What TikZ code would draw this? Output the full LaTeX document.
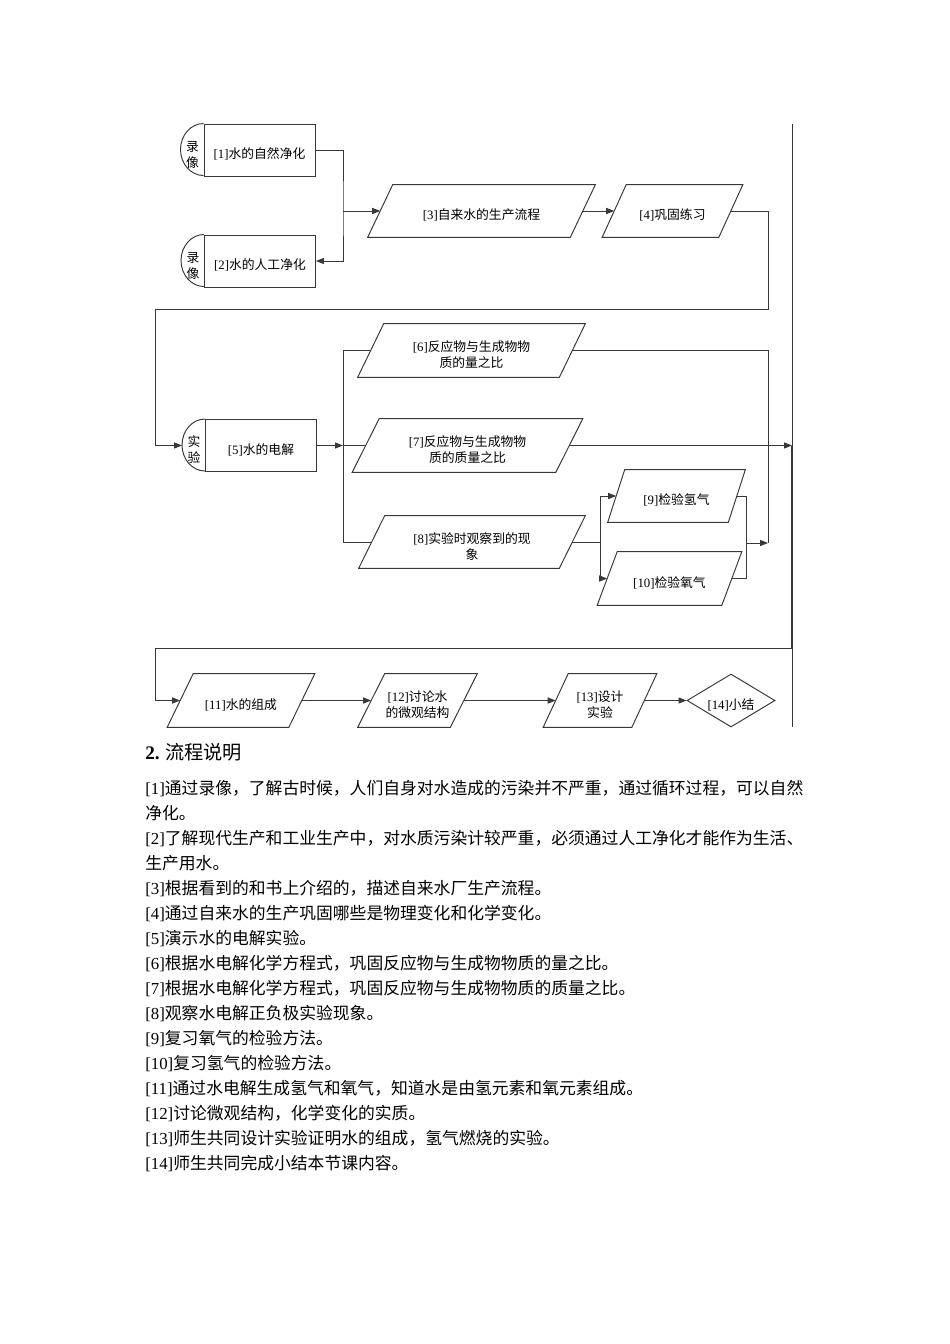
\documentclass[tikz,border=0pt]{standalone}
\usepackage{fontspec}
\setmainfont{Liberation Serif}
\newfontfamily\cjk{Noto Sans CJK SC}
\usetikzlibrary{arrows.meta,shapes.geometric,calc}
\newdimen\px \px=0.625pt
\newcommand\lat[1]{{\rmfamily #1}}
\definecolor{lc}{gray}{0.22}
\tikzset{
  fc/.style={font=\cjk\fontsize{8}{10}\selectfont},
  tshift/.style={execute at begin node={\rule{0pt}{#1}}},
  tshift/.default=12pt,
  two/.style={tshift=22pt},
  box/.style={fc, tshift, draw=lc, line width=0.6pt, minimum width=111\px, minimum height=52\px, inner sep=0pt, align=center},
  pbox/.style={fc, tshift, draw=none, inner sep=0pt, align=center, minimum height=52\px},
  lab/.style={fc, inner sep=0pt, align=center},
  dia/.style={fc, tshift, diamond, draw=lc, line width=0.6pt, aspect=1.66, inner sep=0pt, minimum width=88\px, minimum height=53\px},
  conn/.style={draw=lc, line width=0.6pt},
  arr/.style={conn, -{Triangle[length=5pt,width=3.8pt]}},
  body/.style={inner sep=0pt, anchor=base west, font=\cjk\fontsize{10.5}{12}\selectfont},
}
\begin{document}
\begin{tikzpicture}[x=0.625pt,y=-0.625pt]
\useasboundingbox (0,0) rectangle (950,1344);
\fill[white] (0,0) rectangle (950,1344);

% border line on the right
\coordinate (bt) at (792,124);
\coordinate (bb) at (792,727);
\draw[conn] (bt) -- (bb);

% boxes with half-round label
\node[box] (n1) at (259.5,150) {\lat{[1]}水的自然净化};
\node[box] (n2) at (260,261) {\lat{[2]}水的人工净化};
\node[box] (n5) at (261,445.5) {\lat{[5]}水的电解};
\foreach \n in {n1,n2,n5}
  \draw[conn] (\n.north west) arc[start angle=90, end angle=270, x radius=23\px, y radius=26\px];
\node[lab] (l1) at ($(n1.west)+(-11,5)$) {录\\像};
\node[lab] (l2) at ($(n2.west)+(-11,5)$) {录\\像};
\node[lab] (l5) at ($(n5.west)+(-11,4)$) {实\\验};
\coordinate (a5) at ($(n5.west)+(-23,0)$);

% parallelograms
\node[pbox, minimum width=202\px] (n3) at (481.5,211) {\lat{[3]}自来水的生产流程};
\node[pbox, minimum width=116\px] (n4) at (672.5,211) {\lat{[4]}巩固练习};
\node[pbox, two, minimum width=201\px, minimum height=53\px] (n6) at (471.5,350.5) {\lat{[6]}反应物与生成物物\\质的量之比};
\node[pbox, two, minimum width=203\px, minimum height=53\px] (n7) at (467.5,445.5) {\lat{[7]}反应物与生成物物\\质的质量之比};
\node[pbox, two, minimum width=200\px] (n8) at (472,542) {\lat{[8]}实验时观察到的现\\象};
\node[pbox, minimum width=120\px] (n9) at (676.5,496) {\lat{[9]}检验氢气};
\node[pbox, minimum width=124\px, minimum height=53\px] (n10) at (669.5,578.5) {\lat{[10]}检验氧气};
\node[pbox, minimum width=121\px, minimum height=53\px] (n11) at (241,700.5) {\lat{[11]}水的组成};
\node[pbox, two, minimum width=92\px, minimum height=53\px] (n12) at (417.5,700.5) {\lat{[12]}讨论水\\的微观结构};
\node[pbox, two, minimum width=88\px, minimum height=53\px] (n13) at (600,700.5) {\lat{[13]}设计\\实验};
\node[dia] (n14) at (731,700.5) {\lat{[14]}小结};
\foreach \n/\o in {n3/12.5,n4/12,n6/13,n7/13.5,n8/13,n9/8.5,n10/10,n11/13,n12/13.5,n13/12.5}
  \draw[conn] ([xshift=\o\px]\n.north west) -- ([xshift=\o\px]\n.north east)
    -- ([xshift=-\o\px]\n.south east) -- ([xshift=-\o\px]\n.south west) -- cycle;

% junction coordinates
\coordinate (b1) at (343,211);
\coordinate (r4) at (768,309);
\coordinate (c1) at (155,309);
\coordinate (b5) at (343,445.5);
\coordinate (b6) at (343,350.5);
\coordinate (b8) at (343,542);
\coordinate (m1) at (746,543);
\coordinate (m2) at (768,543);
\coordinate (s8) at (600,542);
\coordinate (r7) at (792,445.5);
\coordinate (r11) at (792,648);
\coordinate (c11) at (155,648);

% connectors
\draw[arr] (n1.east) -| (b1) |- (n2.east);
\draw[arr] (b1) -- (n3.west);
\draw[arr] (n3.east) -- (n4.west);
\draw[arr] (n4.east) -| (r4) -- (c1) |- (a5);
\draw[arr] (n5.east) -- (b5);
\draw[conn] (n6.west) -- (b6) -- (b8) -- (n8.west);
\draw[conn] (b5) -- (n7.west);
\draw[conn] (n6.east) -| (m2);
\draw[arr] (n7.east) -- (r7);
\draw[conn] (n8.east) -- (s8);
\draw[arr] (s8) |- (n9.west);
\draw[arr] (s8) |- (n10.west);
\draw[conn] (n9.east) -| (m1) |- (n10.east);
\draw[arr] (m1) -- (m2);
\draw[draw=lc, line width=1.3pt] (r7) -- (r11);
\draw[arr] (r11) -- (c11) |- (n11.west);
\draw[arr] (n11.east) -- (n12.west);
\draw[arr] (n12.east) -- (n13.west);
\draw[arr] (n13.east) -- (n14.west);

% explanation text
\node[inner sep=0pt, anchor=base west, font=\cjk\fontsize{12}{14}\selectfont] (h) at (145,759) {\lat{\bfseries 2.}\hspace{3.5pt}流程说明};
\node[body] (t1) at (145,794) {\lat{[1]}通过录像，了解古时候，人们自身对水造成的污染并不严重，通过循环过程，可以自然};
\node[body] (t2) at (145,819) {净化。};
\node[body] (t3) at (145,844) {\lat{[2]}了解现代生产和工业生产中，对水质污染计较严重，必须通过人工净化才能作为生活、};
\node[body] (t4) at (145,869) {生产用水。};
\node[body] (t5) at (145,894) {\lat{[3]}根据看到的和书上介绍的，描述自来水厂生产流程。};
\node[body] (t6) at (145,919) {\lat{[4]}通过自来水的生产巩固哪些是物理变化和化学变化。};
\node[body] (t7) at (145,944) {\lat{[5]}演示水的电解实验。};
\node[body] (t8) at (145,969) {\lat{[6]}根据水电解化学方程式，巩固反应物与生成物物质的量之比。};
\node[body] (t9) at (145,994) {\lat{[7]}根据水电解化学方程式，巩固反应物与生成物物质的质量之比。};
\node[body] (t10) at (145,1019) {\lat{[8]}观察水电解正负极实验现象。};
\node[body] (t11) at (145,1044) {\lat{[9]}复习氧气的检验方法。};
\node[body] (t12) at (145,1069) {\lat{[10]}复习氢气的检验方法。};
\node[body] (t13) at (145,1094) {\lat{[11]}通过水电解生成氢气和氧气，知道水是由氢元素和氧元素组成。};
\node[body] (t14) at (145,1119) {\lat{[12]}讨论微观结构，化学变化的实质。};
\node[body] (t15) at (145,1144) {\lat{[13]}师生共同设计实验证明水的组成，氢气燃烧的实验。};
\node[body] (t16) at (145,1169) {\lat{[14]}师生共同完成小结本节课内容。};
\end{tikzpicture}
\end{document}
